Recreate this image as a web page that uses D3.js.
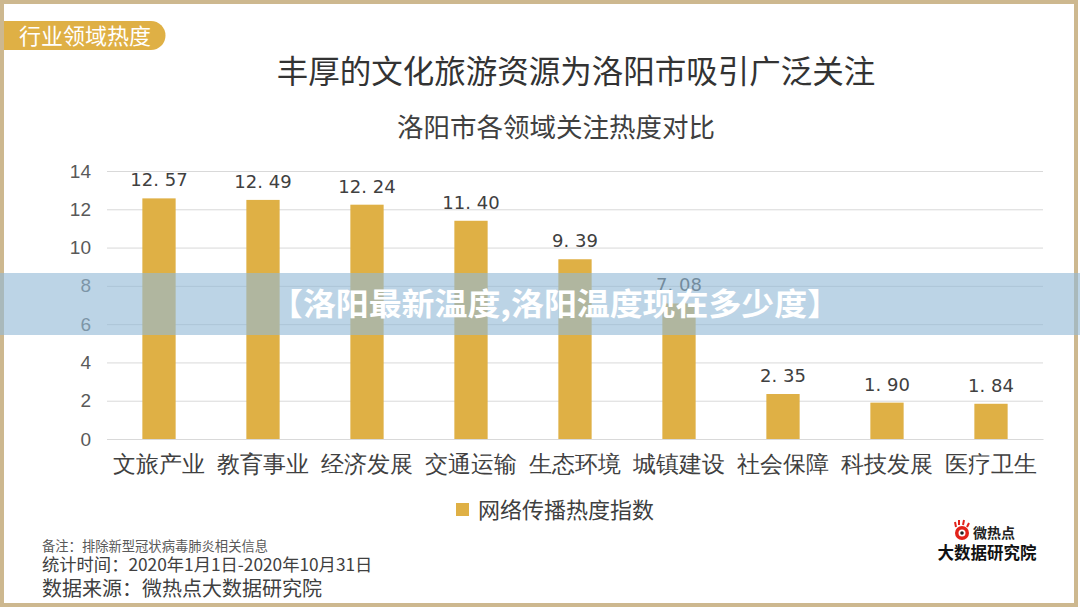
<!DOCTYPE html>
<html>
<head>
<meta charset="utf-8">
<script src="https://cdn.jsdelivr.net/npm/d3@7"></script>
<style>
  body { margin: 0; background: #fff; }
  svg { display: block; font-family: "Noto Sans CJK SC", "Noto Sans", sans-serif; }
</style>
</head>
<body>
<svg id="chart" width="1080" height="608"></svg>
<script>
// data
var categories = ["文旅产业", "教育事业", "经济发展", "交通运输", "生态环境", "城镇建设", "社会保障", "科技发展", "医疗卫生"];
var values = [12.57, 12.49, 12.24, 11.40, 9.39, 7.08, 2.35, 1.90, 1.84];
var yTicks = [0, 2, 4, 6, 8, 10, 12, 14];
var seriesName = "网络传播热度指数";

var gold = "#dfb045";
var svg = d3.select("#chart");

// frame
svg.append("rect")
    .attr("x", 2).attr("y", 2)
    .attr("width", 1074).attr("height", 603)
    .attr("fill", "#fff")
    .attr("stroke", "#cdb88f")
    .attr("stroke-width", 4);

// top-left tag
svg.append("path")
    .attr("d", "M4,21 H151 A14.5,14.5 0 0 1 151,50 H4 Z")
    .attr("fill", gold);
svg.append("text")
    .attr("x", 19).attr("y", 44)
    .attr("fill", "#fff")
    .style("font-size", "22px")
    .text("行业领域热度");

// titles
svg.append("text")
    .attr("x", 576).attr("y", 83)
    .attr("text-anchor", "middle")
    .attr("fill", "#333")
    .style("font-size", "31.5px")
    .text("丰厚的文化旅游资源为洛阳市吸引广泛关注");

svg.append("text")
    .attr("x", 556).attr("y", 137)
    .attr("text-anchor", "middle")
    .attr("fill", "#404040")
    .style("font-size", "26.5px")
    .text("洛阳市各领域关注热度对比");

// scales
var x = d3.scaleBand().domain(categories).range([107, 1043]).paddingInner(0.68).paddingOuter(0.34);
var y = d3.scaleLinear().domain([0, 14]).range([439, 171]);

// grid + y labels
var yAxis = svg.append("g")
    .attr("transform", "translate(107,0)")
    .call(d3.axisLeft(y).tickValues(yTicks).tickSize(-936).tickPadding(16));
yAxis.select(".domain").remove();
yAxis.selectAll(".tick line").attr("stroke", "#d9d9d9");
yAxis.selectAll(".tick text")
    .attr("fill", "#595959")
    .style("font-size", "19px")
    .style("font-family", "'Liberation Sans', sans-serif");

// bars
svg.append("g").selectAll("rect")
    .data(values)
    .join("rect")
    .attr("x", function(d, i) { return x(categories[i]); })
    .attr("y", function(d) { return y(d); })
    .attr("width", x.bandwidth())
    .attr("height", function(d) { return y(0) - y(d); })
    .attr("fill", gold);

// value labels
svg.append("g").selectAll("text")
    .data(values)
    .join("text")
    .attr("x", function(d, i) { return x(categories[i]) + x.bandwidth() / 2; })
    .attr("y", function(d) { return y(d) - 12; })
    .attr("text-anchor", "middle")
    .attr("fill", "#404040")
    .style("font-size", "18px")
    .style("font-family", "'DejaVu Sans', sans-serif")
    .text(function(d) { return d.toFixed(2).replace(".", ". "); });

// x labels
var xAxis = svg.append("g")
    .attr("transform", "translate(0,439)")
    .call(d3.axisBottom(x).tickSize(0).tickPadding(17));
xAxis.select(".domain").attr("stroke", "#d9d9d9");
xAxis.selectAll(".tick text")
    .attr("fill", "#404040")
    .style("font-size", "22.5px")
    .attr("dy", "0.71em");

// legend
svg.append("rect")
    .attr("x", 456).attr("y", 503)
    .attr("width", 13).attr("height", 13)
    .attr("fill", gold);
svg.append("text")
    .attr("x", 478).attr("y", 518)
    .attr("fill", "#404040")
    .style("font-size", "22px")
    .text(seriesName);

// footnotes
svg.append("text")
    .attr("x", 42).attr("y", 551)
    .attr("fill", "#595959")
    .style("font-size", "13.3px")
    .text("备注：排除新型冠状病毒肺炎相关信息");
svg.append("text")
    .attr("x", 42).attr("y", 571)
    .attr("fill", "#404040")
    .style("font-size", "17.3px")
    .text("统计时间：2020年1月1日-2020年10月31日");
svg.append("text")
    .attr("x", 42).attr("y", 596)
    .attr("fill", "#404040")
    .style("font-size", "20px")
    .text("数据来源：微热点大数据研究院");

// logo
var logo = svg.append("g");
logo.append("circle").attr("cx", 962).attr("cy", 533).attr("r", 7).attr("fill", "#e2231a");
logo.append("circle").attr("cx", 962).attr("cy", 533).attr("r", 3.5).attr("fill", "#fff");
logo.append("circle").attr("cx", 962).attr("cy", 533).attr("r", 1.8).attr("fill", "#222");
logo.append("path").attr("d", "M956,527 L955,522 M959,525 L959,520 M963,525 L964,520 M967,527 L969,523")
    .attr("stroke", "#e2231a").attr("stroke-width", 2);
logo.append("text")
    .attr("x", 973).attr("y", 538)
    .attr("fill", "#222")
    .style("font-size", "14px")
    .style("font-weight", "bold")
    .text("微热点");
logo.append("text")
    .attr("x", 987).attr("y", 559)
    .attr("text-anchor", "middle")
    .attr("fill", "#111")
    .style("font-size", "16.5px")
    .style("font-weight", "bold")
    .text("大数据研究院");

// overlay banner
svg.append("rect")
    .attr("x", 0).attr("y", 273)
    .attr("width", 1080).attr("height", 62)
    .attr("fill", "rgb(147,186,215)")
    .attr("fill-opacity", 0.62);
svg.append("text")
    .attr("x", 555).attr("y", 315)
    .attr("text-anchor", "middle")
    .attr("fill", "#fff")
    .attr("textLength", 570)
    .attr("lengthAdjust", "spacingAndGlyphs")
    .style("font-size", "31px")
    .style("font-weight", "bold")
    .text("【洛阳最新温度,洛阳温度现在多少度】");
</script>
</body>
</html>
